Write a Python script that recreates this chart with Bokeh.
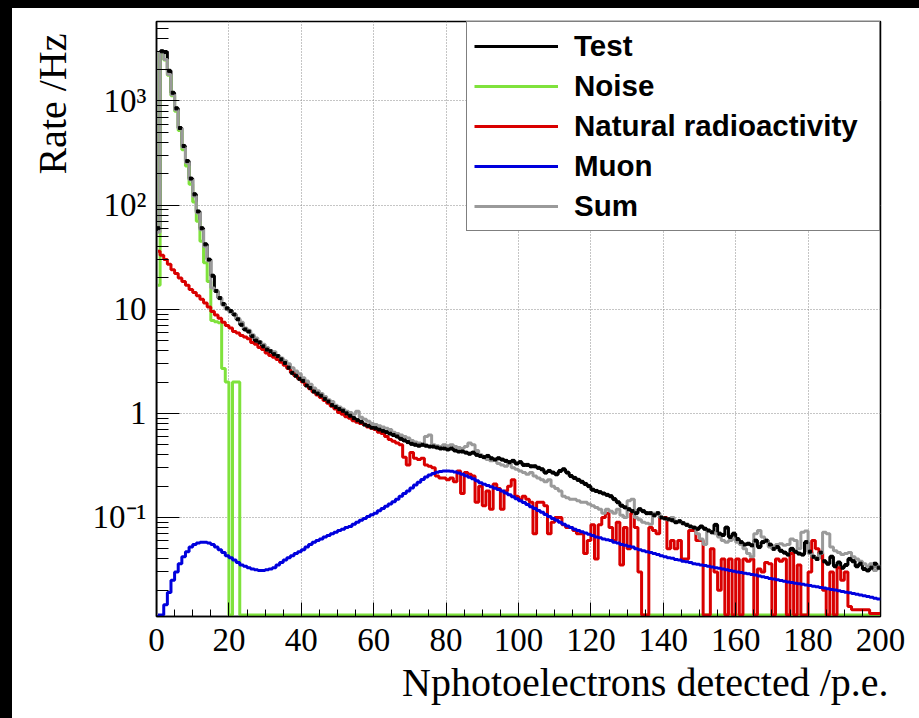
import numpy as np
from bokeh.plotting import figure
from bokeh.models import (Range1d, FixedTicker, SingleIntervalTicker, Legend, LegendItem,
                          Title, Spacer)
from bokeh.layouts import row, column
from bokeh.embed import file_html
from bokeh.resources import INLINE

# ---------------- data (1 p.e. bins, rates in Hz) ----------------
bin_edges = list(range(0, 201))

test_rate = [
    60, 3000, 2950, 1950, 1200, 850, 550, 370, 265, 180,
    127, 87, 60, 42, 30, 21, 15, 12.8, 11.2, 10.2,
    9.6, 8.9, 8.0, 7.1, 6.4, 6.1, 5.5, 5.0, 4.8, 4.4,
    4.1, 3.95, 3.7, 3.55, 3.3, 3.05, 2.75, 2.45, 2.3, 2.15,
    2.05, 1.85, 1.75, 1.62, 1.55, 1.48, 1.38, 1.3, 1.2, 1.15,
    1.1, 1.06, 1.0, 0.95, 0.9, 0.86, 0.83, 0.78, 0.76, 0.73,
    0.72, 0.70, 0.68, 0.66, 0.64, 0.62, 0.60, 0.57, 0.55, 0.53,
    0.51, 0.50, 0.49, 0.50, 0.49, 0.48, 0.48, 0.47, 0.46, 0.46,
    0.45, 0.46, 0.44, 0.43, 0.43, 0.42, 0.41, 0.42, 0.40, 0.39,
    0.38, 0.39, 0.37, 0.36, 0.37, 0.36, 0.35, 0.34, 0.35, 0.33,
    0.34, 0.32, 0.32, 0.31, 0.31, 0.30, 0.29, 0.27, 0.28, 0.27,
    0.26, 0.28, 0.29, 0.27, 0.25, 0.24, 0.23, 0.22, 0.21, 0.20,
    0.185, 0.18, 0.175, 0.17, 0.165, 0.16, 0.15, 0.14, 0.13, 0.125,
    0.12, 0.115, 0.11, 0.12, 0.115, 0.11, 0.11, 0.105, 0.11, 0.10,
    0.098, 0.096, 0.094, 0.09, 0.092, 0.088, 0.085, 0.082, 0.08, 0.078,
    0.082, 0.078, 0.075, 0.072, 0.085, 0.07, 0.068, 0.08, 0.065, 0.07,
    0.062, 0.058, 0.055, 0.056, 0.054, 0.06, 0.052, 0.058, 0.06, 0.055,
    0.05, 0.052, 0.048, 0.046, 0.044, 0.05, 0.047, 0.045, 0.044, 0.058,
    0.047, 0.042, 0.04, 0.046, 0.038, 0.036, 0.042, 0.034, 0.037, 0.033,
    0.035, 0.04, 0.038, 0.034, 0.036, 0.032, 0.031, 0.033, 0.036, 0.033,
]

sum_rate = [
    55, 2950, 2500, 1800, 1150, 820, 540, 360, 255, 175,
    122, 84, 58, 40, 29, 16, 15, 13, 11, 10,
    9.4, 9.0, 8.2, 7.5, 6.6, 6.3, 5.7, 5.3, 4.9, 4.6,
    4.3, 4.0, 3.9, 3.6, 3.4, 3.2, 3.0, 2.75, 2.55, 2.4,
    2.2, 2.05, 1.9, 1.75, 1.65, 1.55, 1.45, 1.35, 1.3, 1.2,
    1.15, 1.1, 1.05, 1.02, 0.98, 1.05, 0.92, 0.88, 0.84, 0.8,
    0.78, 0.76, 0.74, 0.72, 0.70, 0.66, 0.64, 0.62, 0.6, 0.58,
    0.55, 0.53, 0.52, 0.5, 0.6, 0.62, 0.5, 0.49, 0.48, 0.5,
    0.49, 0.5, 0.48, 0.47, 0.46, 0.48, 0.52, 0.5, 0.44, 0.40,
    0.38, 0.36, 0.35, 0.36, 0.33, 0.32, 0.31, 0.33, 0.3, 0.29,
    0.28, 0.27, 0.26, 0.27, 0.25, 0.24, 0.23, 0.22, 0.23, 0.2,
    0.19, 0.18, 0.16, 0.155, 0.15, 0.15, 0.145, 0.14, 0.14, 0.135,
    0.13, 0.125, 0.12, 0.11, 0.12, 0.115, 0.11, 0.12, 0.105, 0.1,
    0.145, 0.15, 0.1, 0.095, 0.09, 0.088, 0.086, 0.11, 0.108, 0.1,
    0.098, 0.095, 0.1, 0.092, 0.09, 0.088, 0.086, 0.082, 0.08, 0.07,
    0.062, 0.055, 0.075, 0.072, 0.07, 0.065, 0.06, 0.058, 0.06, 0.062,
    0.058, 0.055, 0.05, 0.045, 0.042, 0.07, 0.075, 0.065, 0.06, 0.052,
    0.05, 0.055, 0.056, 0.054, 0.055, 0.062, 0.06, 0.05, 0.072, 0.074,
    0.045, 0.042, 0.04, 0.045, 0.072, 0.07, 0.052, 0.048, 0.046, 0.044,
    0.045, 0.046, 0.042, 0.04, 0.038, 0.036, 0.034, 0.036, 0.031, 0.034,
]

natural_rate = [
    36, 33, 30, 27, 24, 22, 20, 18.5, 17, 15.5,
    14.5, 13.5, 12.5, 11.5, 10.5, 9.5, 8.8, 8.2, 7.5, 7.0,
    6.6, 6.1, 5.9, 5.6, 5.4, 5.2, 4.8, 4.6, 4.3, 4.1,
    3.8, 3.6, 3.45, 3.3, 3.1, 2.9, 2.7, 2.5, 2.3, 2.15,
    2.0, 1.85, 1.72, 1.6, 1.5, 1.42, 1.33, 1.25, 1.17, 1.1,
    1.02, 0.98, 0.93, 0.9, 0.85, 0.82, 0.8, 0.78, 0.74, 0.72,
    0.7, 0.66, 0.64, 0.6, 0.56, 0.54, 0.52, 0.5, 0.38, 0.32,
    0.42, 0.37, 0.36, 0.37, 0.32, 0.31, 0.3, 0.25, 0.24, 0.24,
    0.23, 0.24, 0.22, 0.28, 0.17, 0.27, 0.26, 0.25, 0.14, 0.2,
    0.13, 0.18, 0.12, 0.21, 0.19, 0.12, 0.18, 0.2, 0.23, 0.16,
    0.15, 0.16, 0.15, 0.14, 0.07, 0.14, 0.14, 0.13, 0.07, 0.09,
    0.1, 0.1, 0.085, 0.08, 0.08, 0.075, 0.07, 0.07, 0.045, 0.06,
    0.085, 0.04, 0.085, 0.1, 0.11, 0.08, 0.06, 0.09, 0.035, 0.08,
    0.05, 0.11, 0.08, 0.03, 0, 0, 0.08, 0.075, 0.07, 0.1,
    0.1, 0.05, 0.06, 0.05, 0.06, 0.04, 0.04, 0.075, 0.075, 0.06,
    0.06, 0, 0, 0.05, 0.03, 0.02, 0.04, 0, 0.04, 0,
    0.04, 0, 0.04, 0.038, 0.04, 0, 0.032, 0.03, 0.037, 0.036,
    0, 0.04, 0.038, 0.04, 0, 0.045, 0, 0.035, 0, 0,
    0.03, 0.06, 0.05, 0.045, 0.02, 0, 0.03, 0, 0.033, 0.025,
    0.03, 0.014, 0.013, 0.013, 0.013, 0.013, 0.013, 0.012, 0.012, 0.012,
]

muon_rate = [
    0, 0, 0.0145, 0.019, 0.025, 0.030, 0.036, 0.042, 0.047, 0.052,
    0.055, 0.057, 0.058, 0.058, 0.057, 0.055, 0.052, 0.049, 0.046, 0.043,
    0.041, 0.039, 0.037, 0.035, 0.034, 0.033, 0.032, 0.0315, 0.031, 0.031,
    0.0315, 0.032, 0.033, 0.035, 0.037, 0.039, 0.041, 0.043, 0.045, 0.047,
    0.049, 0.052, 0.055, 0.058, 0.060, 0.062, 0.065, 0.067, 0.070, 0.072,
    0.075, 0.077, 0.080, 0.082, 0.086, 0.090, 0.094, 0.098, 0.102, 0.106,
    0.110, 0.116, 0.122, 0.128, 0.135, 0.142, 0.150, 0.160, 0.170, 0.180,
    0.192, 0.205, 0.218, 0.232, 0.245, 0.256, 0.265, 0.272, 0.277, 0.280,
    0.280, 0.278, 0.274, 0.268, 0.260, 0.252, 0.244, 0.235, 0.226, 0.216,
    0.209, 0.203, 0.197, 0.191, 0.186, 0.180, 0.172, 0.165, 0.158, 0.151,
    0.145, 0.139, 0.133, 0.127, 0.122, 0.117, 0.112, 0.107, 0.102, 0.098,
    0.094, 0.090, 0.086, 0.083, 0.080, 0.077, 0.075, 0.073, 0.071, 0.069,
    0.067, 0.065, 0.064, 0.062, 0.061, 0.060, 0.058, 0.057, 0.055, 0.054,
    0.053, 0.052, 0.050, 0.049, 0.048, 0.047, 0.046, 0.045, 0.044, 0.043,
    0.042, 0.041, 0.0405, 0.0395, 0.039, 0.038, 0.0375, 0.037, 0.036, 0.0355,
    0.035, 0.0345, 0.034, 0.0335, 0.033, 0.0325, 0.032, 0.0315, 0.031, 0.0305,
    0.030, 0.0296, 0.0292, 0.0288, 0.0284, 0.028, 0.0275, 0.027, 0.0265, 0.026,
    0.0256, 0.0252, 0.0248, 0.0244, 0.024, 0.0237, 0.0234, 0.0231, 0.0228, 0.0225,
    0.0222, 0.0219, 0.0216, 0.0213, 0.021, 0.0207, 0.0204, 0.0201, 0.0198, 0.0195,
    0.0192, 0.0189, 0.0186, 0.0183, 0.018, 0.0177, 0.0174, 0.0171, 0.0168, 0.0165,
]

# noise is only non-zero in the first 23 bins; all later bins are empty
noise_head = [
    17, 2900, 2470, 1770, 1125, 798, 520, 341, 238, 159,
    107, 70, 45, 28, 18.5, 7.8, 7.6, 7.4, 2.7, 2.0,
    0, 2.0, 2.0,
]
noise_rate = noise_head + [0.0] * (len(bin_edges) - 1 - len(noise_head))

series_labels = ["Test", "Noise", "Natural radioactivity", "Muon", "Sum"]

x_tick_interval = 20
y_tick_values = [0.1, 1, 10, 100, 1000]
y_tick_labels = ["10\u207b\u00b9", "1", "10", "10\u00b2", "10\u00b3"]

x_title = "Nphotoelectrons detected /p.e."
y_title = "Rate /Hz"

# ---------------- styling ----------------
Y_MIN, Y_MAX = 0.0112, 5800.0
Y_FLOOR = 0.01155  # where empty bins are drawn (just above the frame bottom)
SERIF = "Liberation Serif"
SANS = "Liberation Sans"

edges = np.asarray(bin_edges, dtype=float)
centers = 0.5 * (edges[:-1] + edges[1:])


def outline(values):
    v = np.maximum(np.asarray(values, dtype=float), Y_FLOOR)
    xs = np.concatenate([[edges[0]], np.repeat(edges, 2)[1:-1]])
    ys = np.concatenate([[Y_FLOOR], np.repeat(v, 2)])
    return xs, ys


p = figure(width=907, height=710,
           x_range=Range1d(0, 200), y_range=Range1d(Y_MIN, Y_MAX),
           y_axis_type="log", output_backend="svg", toolbar_location=None,
           min_border_left=143, min_border_right=39,
           min_border_top=13, min_border_bottom=102,
           background_fill_color="white", border_fill_color="white",
           outline_line_color="black", outline_line_width=1.5)

# grid
for g in (p.xgrid, p.ygrid):
    g.grid_line_color = "#8a8a8a"
    g.grid_line_dash = "1 2"
    g.grid_line_width = 1

# x axis
xa = p.xaxis[0]
xa.ticker = SingleIntervalTicker(interval=x_tick_interval, num_minor_ticks=4)
xa.major_tick_in = 14
xa.major_tick_out = 0
xa.minor_tick_in = 7
xa.minor_tick_out = 0
xa.major_label_text_font = SERIF
xa.major_label_text_font_size = "33px"
xa.major_label_text_color = "black"
xa.major_label_standoff = 12
xa.axis_line_width = 1.5
xa.major_tick_line_color = "black"
xa.minor_tick_line_color = "black"

# y axis
minor_y = [m * 10.0 ** e for e in range(-2, 4) for m in range(2, 10)]
ya = p.yaxis[0]
ya.ticker = FixedTicker(ticks=y_tick_values, minor_ticks=minor_y)
ya.major_label_overrides = dict(zip(y_tick_values, y_tick_labels))
ya.major_tick_in = 23
ya.major_tick_out = 0
ya.minor_tick_in = 12
ya.minor_tick_out = 0
ya.major_label_text_font = SERIF
ya.major_label_text_font_size = "33px"
ya.major_label_text_color = "black"
ya.major_label_standoff = 10
ya.axis_line_width = 1.5
ya.major_tick_line_color = "black"
ya.minor_tick_line_color = "black"

# histograms
LW = 3
xs, ys = outline(test_rate)
r_test = p.line(xs, ys, line_color="black", line_width=LW)
xs, ys = outline(noise_rate)
r_noise = p.line(xs, ys, line_color="#7fe23c", line_width=LW)
xs, ys = outline(natural_rate)
r_nat = p.line(xs, ys, line_color="#d90000", line_width=LW)
xs, ys = outline(muon_rate)
r_muon = p.line(xs, ys, line_color="#0000dd", line_width=LW)
xs, ys = outline(sum_rate)
r_sum = p.line(xs, ys, line_color="#9a9a9a", line_width=LW)
p.scatter(centers, np.asarray(test_rate, dtype=float), marker="square", size=3,
          color="black")

# legend
r_dot = p.scatter(x=[], y=[], marker="circle", size=4, color="black")
items = [LegendItem(label=lab, renderers=[r, r_dot])
         for lab, r in zip(series_labels, [r_test, r_noise, r_nat, r_muon, r_sum])]
legend = Legend(items=items, location="top_right", margin=0, padding=7, spacing=6,
                glyph_width=84, glyph_height=30, label_height=30, label_standoff=16,
                label_width=298,
                label_text_font=SANS, label_text_font_style="bold",
                label_text_font_size="29.5px", label_text_color="black",
                border_line_color="black", border_line_width=1.5,
                background_fill_color="white", background_fill_alpha=1.0)
p.add_layout(legend)

# axis titles (ROOT style: aligned at the end of the axes)
xt = Title(text=x_title, align="right", text_font=SERIF, text_font_size="40px",
           text_font_style="normal", text_color="black", offset=-8, standoff=9)
p.add_layout(xt, "below")
yt = Title(text=y_title, align="right", text_font=SERIF, text_font_size="40px",
           text_font_style="normal", text_color="black", offset=12, standoff=30)
p.add_layout(yt, "left")

top_bar = Spacer(width=919, height=8, styles={"background-color": "black"})
left_bar = Spacer(width=12, height=710, styles={"background-color": "black"})
layout = column(top_bar, row(left_bar, p))

open("out.html", "w").write(file_html(layout, INLINE))
